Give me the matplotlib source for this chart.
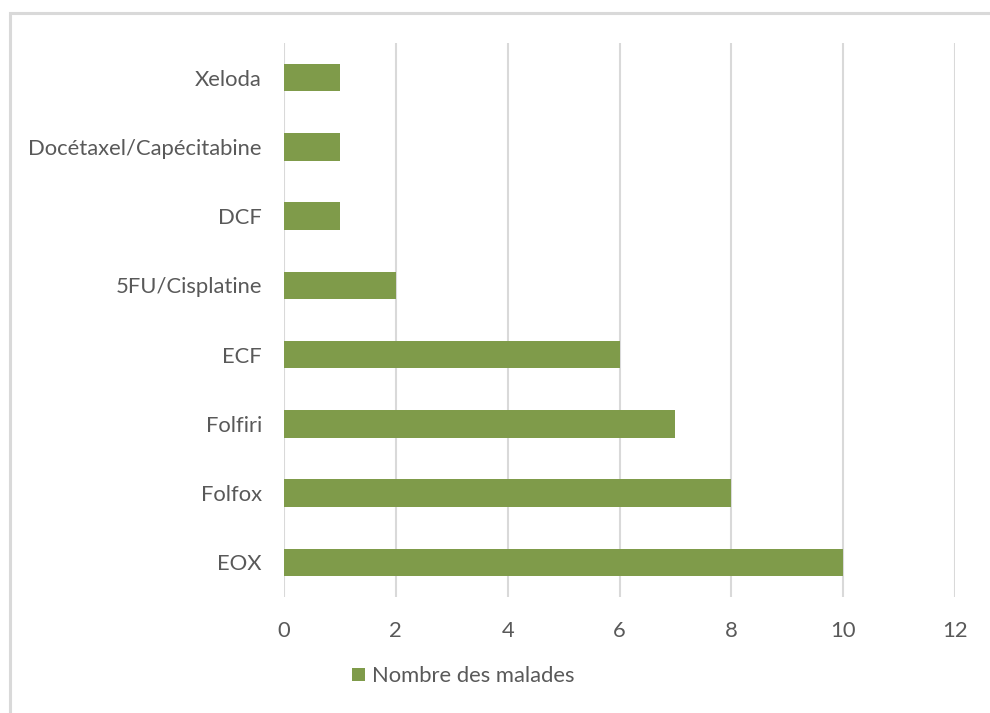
import matplotlib.pyplot as plt
from matplotlib.patches import Rectangle

# traitements et nombre de malades
traitements = ['EOX', 'Folfox', 'Folfiri', 'ECF', '5FU/Cisplatine', 'DCF',
               'Docétaxel/Capécitabine', 'Xeloda']
malades = [10, 8, 7, 6, 2, 1, 1, 1]

vert = '#7F9B4A'
gris_texte = '#595959'
gris_grille = '#D9D9D9'

plt.rcParams['font.family'] = ['Lato', 'DejaVu Sans']

fig = plt.figure(figsize=(9.9, 7.13), dpi=100)
ax = fig.add_axes([0.2869, 0.1627, 0.6778, 0.7770])

ax.barh(range(len(traitements)), malades, height=0.4, color=vert,
        label='Nombre des malades', zorder=3)

ax.set_xlim(0, 12)
ax.set_ylim(-0.5, len(traitements) - 0.5)
ax.set_xticks(range(0, 13, 2))
ax.set_yticks(range(len(traitements)))
ax.set_yticklabels(traitements)
ax.tick_params(axis='both', length=0, labelsize=15.8, labelcolor=gris_texte)
ax.tick_params(axis='y', pad=16)
ax.tick_params(axis='x', pad=17)
ax.grid(axis='x', color=gris_grille, linewidth=1.5, zorder=0)
for s in ax.spines.values():
    s.set_visible(False)

leg = ax.legend(loc='center', bbox_to_anchor=(0.267, -0.143), frameon=False,
                fontsize=15.8, handlelength=0.6, handleheight=0.6,
                handletextpad=0.35)
for t in leg.get_texts():
    t.set_color(gris_texte)

# cadre du graphique
fig.patches.append(Rectangle((10 / 990, -0.05), 1.1, 1 - 13 / 713 + 0.05,
                             transform=fig.transFigure, fill=False,
                             edgecolor=gris_grille, linewidth=2.2))

fig.savefig('out.png', dpi=100)
